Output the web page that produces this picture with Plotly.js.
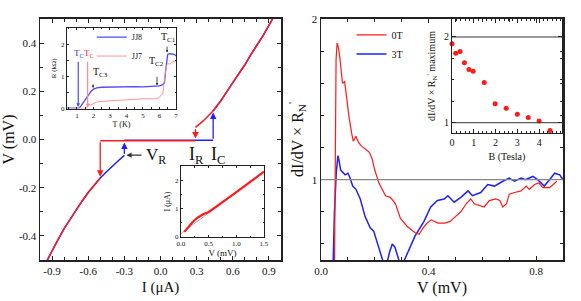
<!DOCTYPE html>
<html><head><meta charset="utf-8">
<script src="https://cdn.plot.ly/plotly-3.0.1.min.js"></script>
<style>html,body{margin:0;padding:0;background:#fff}#plot{width:581px;height:301px}</style>
</head><body><div id="plot"></div>
<script>
// ================= DATA =================
// Main left: I-V curves (I in uA, V in mV)
const redNegI = [-0.96,-0.9,-0.85,-0.8,-0.75,-0.7,-0.65,-0.6,-0.55,-0.5];
const redNegV = [-0.52,-0.46,-0.415,-0.37,-0.33,-0.29,-0.255,-0.22,-0.19,-0.16];
const blueNegI = [-0.96,-0.9,-0.85,-0.8,-0.75,-0.7,-0.65,-0.6,-0.55,-0.5,-0.45,-0.4,-0.35,-0.3];
const blueNegV = [-0.52,-0.46,-0.415,-0.37,-0.33,-0.29,-0.255,-0.22,-0.19,-0.16,-0.135,-0.11,-0.088,-0.066];
const redPosI = [0.29,0.35,0.43,0.5,0.6,0.7,0.76,0.85,0.93,0.96];
const redPosV = [0.05,0.075,0.115,0.16,0.236,0.31,0.36,0.43,0.5,0.525];
const bluePosI = [0.437,0.5,0.6,0.7,0.76,0.85,0.93,0.96];
const bluePosV = [0.118,0.16,0.236,0.31,0.36,0.43,0.5,0.525];
// zero-voltage branches
const redZeroI = [-0.5, 0.29];   const redZeroV = [-0.005, -0.005];
const blueZeroI = [-0.3, 0.437]; const blueZeroV = [-0.003, -0.003];
// jumps (switching / retrapping): current, start voltage, end voltage
const jumpI    = [0.29, 0.437, -0.5, -0.3];
const jumpFrom = [0.05, -0.003, -0.005, -0.066];
const jumpTo   = [0.004, 0.112, -0.155, -0.012];
const jumpSeries = ['JJ7', 'JJ8', 'JJ7', 'JJ8'];
// labelled quantities
const IR = 0.297, IC = 0.478, VRlabelI = -0.035;
const VR = -0.065;

// Inset A: R(T)
const jj8T = [0.4,0.8,1.0,1.15,1.25,1.4,1.55,1.7,1.85,2.0,2.2,2.5,3,3.5,4,4.5,5,5.5,5.8,6.0,6.2,6.3,6.4,6.5,6.6,6.8,6.9,7.0];
const jj8R = [0.01,0.01,0.01,0.02,0.08,0.2,0.33,0.45,0.53,0.6,0.64,0.66,0.67,0.67,0.67,0.68,0.67,0.68,0.68,0.7,0.74,0.8,1.3,1.68,1.7,1.7,1.68,1.63];
const jj7T = [0.4,1.0,1.5,1.6,1.65,1.7,1.8,2.0,2.2,2.5,3,3.5,4,4.5,5,5.5,5.8,6.0,6.1,6.2,6.3,6.4,6.5,6.6,6.8,7.0];
const jj7R = [0.0,0.0,0.0,0.01,0.12,0.16,0.1,0.15,0.2,0.22,0.24,0.26,0.28,0.3,0.3,0.3,0.3,0.35,0.42,0.45,0.8,1.3,1.4,1.38,1.45,1.48];
const tcJJ8 = 1.08, tcJJ7 = 1.65, tc3 = 1.98, tc2 = 5.85, tc1 = 6.46;

// Inset B: I(V)
const ivV = [0.06,0.1,0.15,0.2,0.25,0.3,0.4,0.5,0.6,0.7,0.8,0.9,1.0,1.1,1.2,1.3,1.4,1.5];
const ivI = [0.18,0.28,0.4,0.5,0.6,0.68,0.8,0.88,1.02,1.17,1.3,1.44,1.58,1.72,1.87,2.0,2.15,2.3];
const fitV = [0, 1.5];
const fitI = [0.12, 2.3];

// Main right: normalised dI/dV
const v0T = [0.05,0.051,0.053,0.056,0.06,0.065,0.07,0.075,0.08,0.088,0.095,0.105,0.115,0.12,0.13,0.14,0.15,0.165,0.18,0.19,0.2,0.215,0.24,0.258,0.277,0.295,0.32,0.35,0.365,0.38,0.395,0.41,0.435,0.46,0.48,0.5,0.52,0.54,0.557,0.57,0.59,0.607,0.626,0.65,0.665,0.676,0.69,0.70,0.72,0.744,0.763,0.775,0.794,0.81,0.825,0.85,0.877];
const g0T = [0.4,0.7,1.3,1.75,1.85,1.82,1.76,1.67,1.6,1.61,1.5,1.38,1.28,1.24,1.27,1.23,1.21,1.19,1.17,1.13,1.06,0.98,0.9,0.89,0.85,0.76,0.71,0.67,0.66,0.7,0.73,0.75,0.73,0.73,0.74,0.77,0.8,0.85,0.88,0.85,0.84,0.83,0.87,0.88,0.87,0.83,0.85,0.91,0.92,0.93,0.96,0.94,0.97,0.98,0.95,0.95,0.99];
const v3T = [0.044,0.05,0.057,0.063,0.067,0.073,0.09,0.1,0.106,0.118,0.13,0.146,0.164,0.183,0.196,0.215,0.232,0.24,0.255,0.265,0.275,0.285,0.295,0.305,0.315,0.326,0.35,0.383,0.408,0.433,0.458,0.472,0.495,0.52,0.547,0.563,0.594,0.62,0.645,0.676,0.70,0.72,0.744,0.76,0.788,0.806,0.83,0.85,0.869,0.888,0.9];
const g3T = [0.4,0.8,1.05,1.15,1.12,1.06,1.03,1.04,1.02,0.96,0.94,0.88,0.77,0.70,0.68,0.58,0.48,0.44,0.55,0.6,0.58,0.52,0.47,0.48,0.52,0.56,0.65,0.74,0.83,0.87,0.88,0.9,0.86,0.89,0.93,0.9,0.92,0.97,0.96,0.99,1.01,0.99,1.01,1.0,1.02,1.0,0.96,1.0,1.04,1.03,1.0];

// Right inset: maximum of normalised dI/dV vs field
const fieldB = [0,0.17,0.37,0.57,0.78,0.97,1.48,1.98,2.49,3.0,3.5,4.0,4.5];
const peakG  = [1.92,1.81,1.83,1.70,1.62,1.60,1.47,1.22,1.17,1.10,1.06,1.02,0.91];

// ================= STYLE =================
const RED = '#ff1a1a', BLUE = '#1f1fff', LRED = '#ff8a8a', LBLUE = '#4a4aff';
const FONT = 'Liberation Serif, Times New Roman, serif';
const seriesColor = {JJ7: RED, JJ8: BLUE};

function ax(extra) {
  return Object.assign({
    showgrid: false, zeroline: false, showline: true, linecolor: '#222', linewidth: 1,
    mirror: 'allticks', ticks: 'inside', ticklen: 4, tickwidth: 1, tickcolor: '#222',
    tickfont: {family: FONT, size: 11, color: '#111'}, automargin: false, fixedrange: true
  }, extra);
}

const traces = [];
function line(x, y, xa, ya, color, w, extra) {
  traces.push(Object.assign({x, y, xaxis: xa, yaxis: ya, type: 'scatter', mode: 'lines',
    line: {color, width: w}, showlegend: false, hoverinfo: 'skip'}, extra || {}));
}
// main left
line(blueNegI, blueNegV, 'x', 'y', BLUE, 1.5);
line(bluePosI, bluePosV, 'x', 'y', BLUE, 1.5);
line(blueZeroI, blueZeroV, 'x', 'y', BLUE, 1.5);
line(redNegI, redNegV, 'x', 'y', RED, 1.5);
line(redPosI, redPosV, 'x', 'y', RED, 1.5);
line(redZeroI, redZeroV, 'x', 'y', RED, 1.5);
// main right
line(v3T, g3T, 'x2', 'y2', BLUE, 1.5, {name: '3T', showlegend: true, legend: 'legend', legendrank: 2});
line(v0T, g0T, 'x2', 'y2', RED, 1.2, {name: '0T', showlegend: true, legend: 'legend', legendrank: 1});
// right inset
traces.push({x: fieldB, y: peakG, xaxis: 'x3', yaxis: 'y3', type: 'scatter', mode: 'markers',
  marker: {color: RED, size: 5}, showlegend: false, cliponaxis: false, hoverinfo: 'skip'});
// inset A
line(jj8T, jj8R, 'x4', 'y4', LBLUE, 1.3, {name: 'JJ8', showlegend: true, legend: 'legend2', legendrank: 1});
line(jj7T, jj7R, 'x4', 'y4', LRED, 0.9, {name: 'JJ7', showlegend: true, legend: 'legend2', legendrank: 2});
// inset B
line(fitV, fitI, 'x5', 'y5', '#999', 0.8);
line(ivV, ivI, 'x5', 'y5', RED, 2.2);

const ann = [];
function arrow(x, y, axv, ayv, xr, yr, color, w, hs) {
  ann.push({x, y, ax: axv, ay: ayv, xref: xr, yref: yr, axref: xr, ayref: yr, text: '',
    showarrow: true, arrowhead: 2, arrowsize: hs || 1, arrowwidth: w, arrowcolor: color, standoff: 0});
}
function txt(x, y, text, xr, yr, size, color, extra) {
  ann.push(Object.assign({x, y, xref: xr, yref: yr, text, showarrow: false,
    font: {family: FONT, size, color: color || '#111'}}, extra || {}));
}
jumpI.forEach((I, i) => arrow(I, jumpTo[i], I, jumpFrom[i], 'x', 'y', seriesColor[jumpSeries[i]], 1.3, 1));
arrow(-0.283, VR, -0.145, VR, 'x', 'y', '#333', 1.3, 0.8);
txt(IR, -0.067, 'I<sub>R</sub>', 'x', 'y', 18);
txt(IC, -0.067, 'I<sub>C</sub>', 'x', 'y', 18);
txt(VRlabelI, -0.07, 'V<sub>R</sub>', 'x', 'y', 17);
// inset A labels
txt(tcJJ8 + 0.07, 1.72, 'T<sub>C</sub>', 'x4', 'y4', 9, BLUE);
txt(tcJJ7 + 0.1, 1.72, 'T<sub>C</sub>', 'x4', 'y4', 9, RED);
arrow(tcJJ8, 0.05, tcJJ8, 1.5, 'x4', 'y4', LBLUE, 1.2, 0.6);
arrow(tcJJ7, 0.03, tcJJ7, 1.5, 'x4', 'y4', LRED, 1.2, 0.6);
txt(tc3 + 0.42, 1.13, 'T<sub>C3</sub>', 'x4', 'y4', 10);
arrow(tc3, 0.64, tc3, 0.8, 'x4', 'y4', '#222', 0.8, 0.6);
txt(tc2 - 0.05, 1.45, 'T<sub>C2</sub>', 'x4', 'y4', 10);
arrow(tc2, 0.72, tc2, 1.03, 'x4', 'y4', '#222', 0.8, 0.6);
txt(tc1 + 0.1, 2.2, 'T<sub>C1</sub>', 'x4', 'y4', 10);
arrow(tc1, 1.74, tc1, 1.97, 'x4', 'y4', '#222', 0.8, 0.6);

const shapes = [
  {type: 'line', xref: 'x2 domain', yref: 'y2', x0: 0, x1: 1, y0: 1, y1: 1, line: {color: '#888', width: 1.2}},
  {type: 'line', xref: 'x3 domain', yref: 'y3', x0: 0, x1: 1, y0: 1, y1: 1, line: {color: '#333', width: 1}},
  {type: 'line', xref: 'x3 domain', yref: 'y3', x0: 0, x1: 1, y0: 2, y1: 2, line: {color: '#333', width: 1}}
];

const T = (text, size, extra) => Object.assign({text, font: {family: FONT, size, color: '#111'}}, extra || {});
const small = {family: FONT, size: 7, color: '#111'};

const layout = {
  width: 581, height: 301, margin: {l: 0, r: 0, t: 0, b: 0},
  paper_bgcolor: '#fff', plot_bgcolor: 'rgba(0,0,0,0)', showlegend: true,
  font: {family: FONT},
  xaxis: ax({domain: [0.06885, 0.48365], range: [-1, 1], anchor: 'y', linewidth: 1.5,
    tickvals: [-0.9,-0.6,-0.3,0,0.3,0.6,0.9], ticktext: ['-0.9','-0.6','-0.3','0.0','0.3','0.6','0.9'],
    minor: {tickmode: 'linear', tick0: 0, dtick: 0.1, ticklen: 3, ticks: 'inside', tickcolor: '#222'},
    title: T('I (μA)', 15, {standoff: 6})}),
  yaxis: ax({domain: [0.13621, 0.93688], range: [-0.5, 0.5], anchor: 'x', linewidth: 1.5,
    tickvals: [-0.4,-0.2,0,0.2,0.4], ticktext: ['-0.4','-0.2','0.0','0.2','0.4'],
    minor: {tickmode: 'linear', tick0: 0, dtick: 0.1, ticklen: 3, ticks: 'inside', tickcolor: '#222'},
    title: T('V (mV)', 16, {standoff: 6})}),
  xaxis2: ax({domain: [0.5525, 0.96902], range: [0, 0.9], anchor: 'y2', linewidth: 1.5,
    tickvals: [0, 0.4, 0.8], ticktext: ['0.0','0.4','0.8'],
    minor: {tickmode: 'linear', tick0: 0, dtick: 0.1, ticklen: 3, ticks: 'inside', tickcolor: '#222'},
    title: T('V (mV)', 16, {standoff: 6})}),
  yaxis2: ax({domain: [0.13621, 0.93688], range: [0.5, 2], anchor: 'x2', linewidth: 1.5,
    tickvals: [1, 2], ticktext: ['1', '2'],
    minor: {tickmode: 'linear', tick0: 0, dtick: 0.2, ticklen: 3, ticks: 'inside', tickcolor: '#222'},
    title: T('dI/dV × R<sub>N</sub><sup>\'</sup>', 16, {standoff: 4})}),
  xaxis3: ax({domain: [0.77797, 0.9673], range: [0, 5.05], anchor: 'y3', tickfont: {family: FONT, size: 10, color: '#111'},
    tickvals: [0,1,2,3,4], ticktext: ['0','1','2','3','4'],
    minor: {tickmode: 'linear', tick0: 0, dtick: 0.2, ticklen: 2, ticks: 'inside', tickcolor: '#222'},
    title: T('B (Tesla)', 10, {standoff: 5})}),
  yaxis3: ax({domain: [0.55814, 0.93688], range: [0.88, 2.21], anchor: 'x3', tickfont: {family: FONT, size: 10, color: '#111'},
    tickvals: [1, 2], ticktext: ['1', '2'],
    minor: {tickmode: 'linear', tick0: 0, dtick: 0.25, ticklen: 2, ticks: 'inside', tickcolor: '#222'},
    title: T('dI/dV × R<sub>N</sub><sup>\'</sup> maximum', 10, {standoff: 6})}),
  xaxis4: ax({domain: [0.11532, 0.30293], range: [0.4, 7], anchor: 'y4', tickfont: small, ticklen: 2,
    tickvals: [1,2,3,4,5,6,7], ticktext: ['1','2','3','4','5','6','7'],
    minor: {tickmode: 'linear', tick0: 0, dtick: 0.5, ticklen: 1.5, ticks: 'inside', tickcolor: '#222'},
    title: T('T (K)', 8, {standoff: 2})}),
  yaxis4: ax({domain: [0.63953, 0.90698], range: [0, 2.5], anchor: 'x4', tickfont: small, ticklen: 2,
    tickvals: [0,1,2], ticktext: ['0','1','2'],
    minor: {tickmode: 'linear', tick0: 0, dtick: 0.5, ticklen: 1.5, ticks: 'inside', tickcolor: '#222'},
    title: T('R (kΩ)', 7, {standoff: 3})}),
  xaxis5: ax({domain: [0.31153, 0.45439], range: [0, 1.5], anchor: 'y5', tickfont: small, ticklen: 2,
    tickvals: [0, 0.5, 1, 1.5], ticktext: ['0.0','0.5','1.0','1.5'],
    minor: {tickmode: 'linear', tick0: 0, dtick: 0.25, ticklen: 1.5, ticks: 'inside', tickcolor: '#222'},
    title: T('V (mV)', 9, {standoff: 2})}),
  yaxis5: ax({domain: [0.21262, 0.4485], range: [0, 2.5], anchor: 'x5', tickfont: small, ticklen: 2,
    tickvals: [0,1,2], ticktext: ['0','1','2'],
    minor: {tickmode: 'linear', tick0: 0, dtick: 0.5, ticklen: 1.5, ticks: 'inside', tickcolor: '#222'},
    title: T('I (μA)', 8, {standoff: 3})}),
  legend: {x: 0.605, y: 0.932, xanchor: 'left', yanchor: 'top', bgcolor: 'rgba(0,0,0,0)',
    font: {family: FONT, size: 10, color: '#111'}, traceorder: 'normal', borderwidth: 0},
  legend2: {x: 0.158, y: 0.925, xanchor: 'left', yanchor: 'top', bgcolor: 'rgba(0,0,0,0)',
    font: {family: FONT, size: 8, color: '#111'}, traceorder: 'normal', borderwidth: 0},
  annotations: ann, shapes
};

Plotly.newPlot('plot', traces, layout, {staticPlot: true, displayModeBar: false});
</script></body></html>
